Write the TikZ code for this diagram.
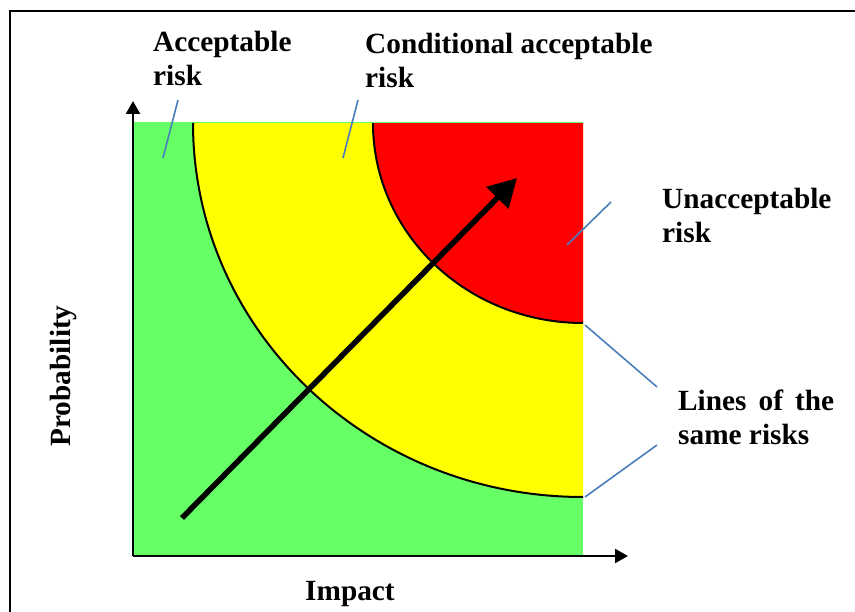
\documentclass[tikz,border=0pt]{standalone}
\usepackage{fontspec}
\setmainfont{Liberation Serif}
\usetikzlibrary{arrows.meta}
\definecolor{riskgreen}{RGB}{102,255,102}
\definecolor{riskyellow}{RGB}{255,255,0}
\definecolor{riskred}{RGB}{255,0,0}
\definecolor{leader}{RGB}{74,126,187}
\begin{document}
\begin{tikzpicture}[x=1pt,y=-1pt,
  lbl/.style={font=\bfseries\fontsize{29.3}{34}\selectfont, inner sep=0pt, align=left, anchor=north west},
  axlbl/.style={font=\bfseries\fontsize{29.3}{34}\selectfont, inner sep=0pt, anchor=base},
  leaderline/.style={draw=leader, line width=1.6pt},
  axisline/.style={line width=2.3pt, -{Triangle[length=13pt,width=14pt]}},
  arcline/.style={line width=2pt}]
\useasboundingbox (0,0) rectangle (855,612);
% frame
\draw[line width=2.5pt] (10,612) -- (10,11) -- (855,11);
% risk regions
\fill[riskgreen] (133,123) rectangle (583,556);
\fill[riskyellow] (583,123) -- (193,123) arc[start angle=180,end angle=90,x radius=390,y radius=374] -- cycle;
\fill[riskred] (583,123) -- (373,123) arc[start angle=180,end angle=90,x radius=210,y radius=200] -- cycle;
\draw[riskgreen, line width=1pt] (133,123) -- (583,123);
\draw[arcline] (193,123) arc[start angle=180,end angle=90,x radius=390,y radius=374];
\draw[arcline] (373,123) arc[start angle=180,end angle=90,x radius=210,y radius=200];
% axes
\coordinate (O) at (133,556);
\coordinate (ytip) at (133,101);
\coordinate (xtip) at (628,556);
\draw[axisline] (O) -- (ytip);
\draw[axisline] (O) -- (xtip);
% big arrow
\coordinate (arrS) at (182,518);
\coordinate (arrE) at (517,178);
\draw[line width=5.5pt, -{Triangle[length=28pt,width=30pt]}] (arrS) -- (arrE);
% labels
\node[lbl] (acc) at (153,31) {Acceptable\\risk};
\node[lbl] (cond) at (365,33) {Conditional acceptable\\risk};
\node[lbl] (unacc) at (662,188) {Unacceptable\\risk};
\node[lbl] (lines) at (678,390) {\makebox[156pt][s]{Lines of the}\\same risks};
\node[axlbl, rotate=90] (prob) at (70,376) {Probability};
\node[axlbl] (imp) at (350,600) {Impact};
% leader lines
\coordinate (accA) at (178,100);
\coordinate (accB) at (163,158);
\coordinate (condA) at (358,100);
\coordinate (condB) at (343,158);
\coordinate (unA) at (611,202);
\coordinate (unB) at (567,245);
\coordinate (lnA) at (657,387);
\coordinate (lnB) at (585,325);
\coordinate (lnC) at (657,445);
\coordinate (lnD) at (585,497);
\draw[leaderline] (accA) -- (accB);
\draw[leaderline] (condA) -- (condB);
\draw[leaderline] (unA) -- (unB);
\draw[leaderline] (lnA) -- (lnB);
\draw[leaderline] (lnC) -- (lnD);
\end{tikzpicture}
\end{document}
